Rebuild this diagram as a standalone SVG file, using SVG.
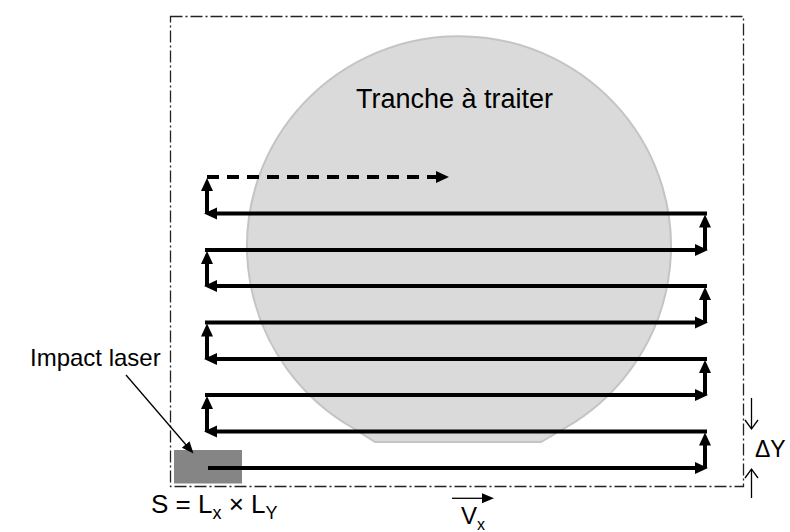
<svg xmlns="http://www.w3.org/2000/svg" width="790" height="532" viewBox="0 0 790 532">
<defs>
<style>
.txt{font-family:"Liberation Sans",Arial,sans-serif;fill:#000}
.path{stroke:#000;stroke-width:4;fill:none;marker-end:url(#head)}
.thin{stroke:#000;stroke-width:1.3;fill:none}
</style>
<marker id="head" markerUnits="userSpaceOnUse" markerWidth="14" markerHeight="14" refX="4" refY="6.5" orient="auto" viewBox="0 0 14 14">
<path d="M0,0.5 L13,6.5 L0,12.5 z" fill="#000"/>
</marker>
<marker id="headThin" markerUnits="userSpaceOnUse" markerWidth="14" markerHeight="12" refX="2" refY="5" orient="auto" viewBox="0 0 14 12">
<path d="M0,0 L12,5 L0,10 z" fill="#000"/>
</marker>
<marker id="openHead" markerUnits="userSpaceOnUse" markerWidth="16" markerHeight="16" refX="10" refY="8" orient="auto" viewBox="0 0 16 16">
<path d="M1,1.5 L10,8 L1,14.5" fill="none" stroke="#000" stroke-width="1.3"/>
</marker>
</defs>
<rect width="790" height="532" fill="#fff"/>

<g id="frame">
<rect x="170.5" y="16.5" width="573" height="470" fill="none" stroke="#222" stroke-width="1.3" stroke-dasharray="12 3 2 3"/>
</g>

<g id="wafer">
<path d="M353,428 A212,210 0 1 1 565,428 L541,442 L375,442 Z" fill="#dadada" stroke="#c4c4c4" stroke-width="2"/>
<text class="txt" x="356" y="108" font-size="27">Tranche à traiter</text>
</g>

<g id="laser-spot">
<rect x="174" y="450" width="68" height="33.5" fill="#858585"/>
</g>

<g id="connectors">
<line class="path" x1="208" y1="468" x2="699" y2="468"/>
<line class="path" x1="705" y1="468" x2="705" y2="441.5"/>
<line class="path" x1="707" y1="431.5" x2="213" y2="431.5"/>
<line class="path" x1="207" y1="431.5" x2="207" y2="405"/>
<line class="path" x1="205" y1="395" x2="699" y2="395"/>
<line class="path" x1="705" y1="395" x2="705" y2="369"/>
<line class="path" x1="707" y1="359" x2="213" y2="359"/>
<line class="path" x1="207" y1="359" x2="207" y2="332.5"/>
<line class="path" x1="205" y1="322.5" x2="699" y2="322.5"/>
<line class="path" x1="705" y1="322.5" x2="705" y2="296"/>
<line class="path" x1="707" y1="286" x2="213" y2="286"/>
<line class="path" x1="207" y1="286" x2="207" y2="260"/>
<line class="path" x1="205" y1="250" x2="699" y2="250"/>
<line class="path" x1="705" y1="250" x2="705" y2="223.5"/>
<line class="path" x1="707" y1="213.5" x2="213" y2="213.5"/>
<line class="path" x1="207" y1="213.5" x2="207" y2="187"/>
<line class="path" x1="207" y1="177" x2="440" y2="177" stroke-dasharray="12 8"/>
</g>

<g id="impact-label">
<text class="txt" x="30" y="366" font-size="24">Impact laser</text>
<line class="thin" x1="126" y1="375" x2="187" y2="446" marker-end="url(#headThin)"/>
</g>

<g id="area-label">
<text class="txt" font-size="26"><tspan x="151" y="513">S = L</tspan><tspan font-size="18" dy="6">x</tspan><tspan dy="-6"> × L</tspan><tspan font-size="18" dy="6">Y</tspan></text>
</g>

<g id="dy-label">
<line class="thin" x1="751.5" y1="398" x2="751.5" y2="429" marker-end="url(#openHead)"/>
<line class="thin" x1="751.5" y1="498" x2="751.5" y2="469" marker-end="url(#openHead)"/>
<text class="txt" x="755" y="457" font-size="23">ΔY</text>
</g>

<g id="vx-label">
<line class="thin" x1="452" y1="498.3" x2="484" y2="498.3" marker-end="url(#headThin)"/>
<text class="txt" font-size="24"><tspan x="461" y="524">V</tspan><tspan font-size="16" dy="6">x</tspan></text>
</g>
</svg>
